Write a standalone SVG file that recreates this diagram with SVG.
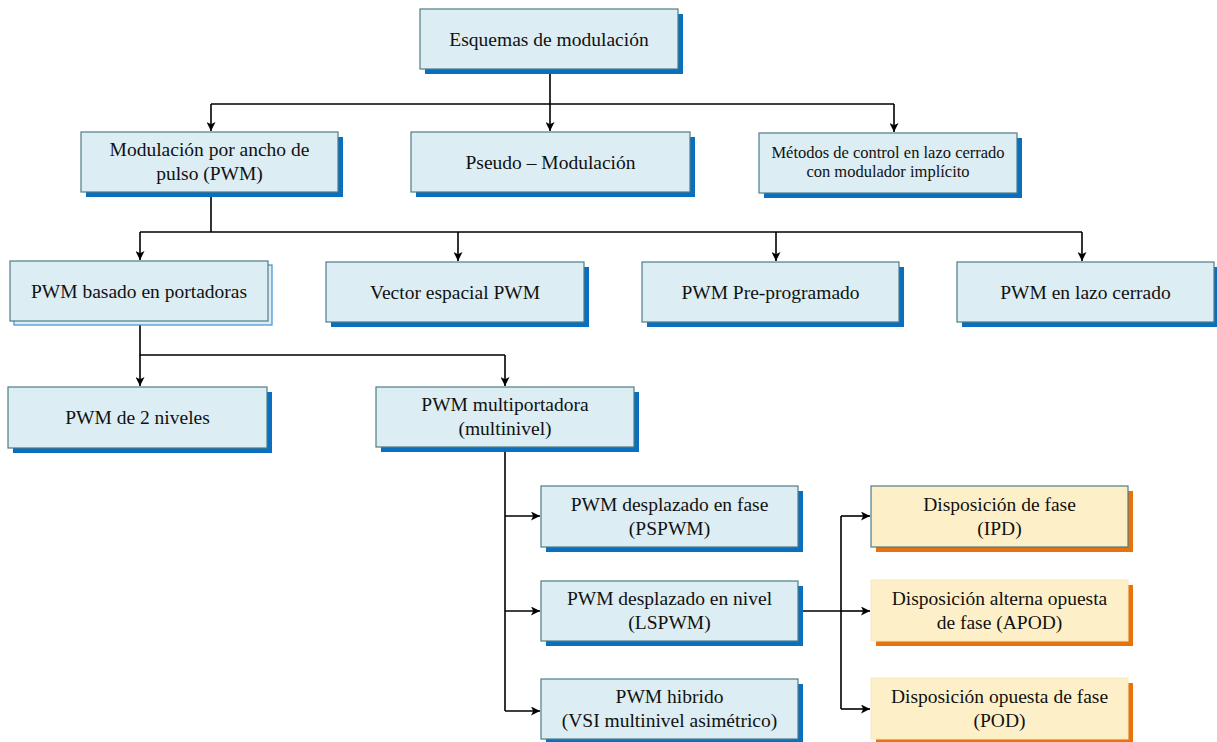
<svg xmlns="http://www.w3.org/2000/svg" width="1217" height="742" viewBox="0 0 1217 742">
<style>
.bx{fill:#dcedf3;stroke:#4f7c86;stroke-width:1.2}
.sh{fill:#0a6fbf}
.ob{fill:#fdf0c8;stroke:#4f7c86;stroke-width:1.2}
.obn{fill:#fdf0c8;stroke:#f6e7bb;stroke-width:1}
.osh{fill:#e8720c}
.bk{fill:#dcedf3;stroke:#3d8fd8;stroke-width:1.2}
.t{font-family:'Liberation Serif','Times New Roman',Times,'DejaVu Serif',serif;font-size:19.5px;fill:#111;text-anchor:middle}
.sm{font-size:16.5px}
.ln{fill:none;stroke:#000;stroke-width:1.6}
</style>
<defs>
<marker id="ar" viewBox="0 0 10 10" refX="10" refY="5" markerWidth="9" markerHeight="9" markerUnits="userSpaceOnUse" orient="auto">
<path d="M0,0 L10,5 L0,10 L2.5,5 Z" fill="#000"/>
</marker>
</defs>
<rect width="1217" height="742" fill="#fff"/>
<g id="connectors">
<path class="ln" d="M550,69 V104 M211,104 H894"/>
<path class="ln" d="M211,104 V131" marker-end="url(#ar)"/>
<path class="ln" d="M550,104 V131" marker-end="url(#ar)"/>
<path class="ln" d="M894,104 V132" marker-end="url(#ar)"/>
<path class="ln" d="M211,192 V232 M140,232 H1082"/>
<path class="ln" d="M140,232 V260" marker-end="url(#ar)"/>
<path class="ln" d="M458,232 V261" marker-end="url(#ar)"/>
<path class="ln" d="M776,232 V261" marker-end="url(#ar)"/>
<path class="ln" d="M1082,232 V261" marker-end="url(#ar)"/>
<path class="ln" d="M140,321 V355 H505"/>
<path class="ln" d="M140,355 V386" marker-end="url(#ar)"/>
<path class="ln" d="M505,355 V386" marker-end="url(#ar)"/>
<path class="ln" d="M505,447 V711"/>
<path class="ln" d="M505,516 H540" marker-end="url(#ar)"/>
<path class="ln" d="M505,611 H540" marker-end="url(#ar)"/>
<path class="ln" d="M505,711 H540" marker-end="url(#ar)"/>
<path class="ln" d="M798,611 H841 M841,516 V709"/>
<path class="ln" d="M841,516 H870" marker-end="url(#ar)"/>
<path class="ln" d="M841,611 H870" marker-end="url(#ar)"/>
<path class="ln" d="M841,709 H870" marker-end="url(#ar)"/>
</g>
<g font-family="Liberation Serif, Times New Roman, serif">
<g id="n-esquemas"><rect class="sh" x="425" y="14" width="258" height="60"/><rect class="bx" x="420" y="9" width="258" height="60"/><text class="t" x="549" y="45.5">Esquemas de modulación</text></g>
<g id="n-pwm"><rect class="sh" x="86" y="137" width="257" height="60"/><rect class="bx" x="81" y="132" width="257" height="60"/><text class="t" x="209.5" y="156">Modulación por ancho de</text><text class="t" x="209.5" y="180">pulso (PWM)</text></g>
<g id="n-pseudo"><rect class="sh" x="416" y="137" width="279" height="60"/><rect class="bx" x="411" y="132" width="279" height="60"/><text class="t" x="550.5" y="168.5">Pseudo – Modulación</text></g>
<g id="n-metodos"><rect class="sh" x="764" y="138" width="258" height="60"/><rect class="bx" x="759" y="133" width="258" height="60"/><text class="t sm" x="888" y="158">Métodos de control en lazo cerrado</text><text class="t sm" x="888" y="177">con modulador implícito</text></g>
<g id="n-basado"><rect class="bk" x="14" y="265" width="258" height="60"/><rect class="bx" x="10" y="261" width="258" height="60"/><text class="t" x="139" y="297.5">PWM basado en portadoras</text></g>
<g id="n-vector"><rect class="sh" x="331" y="267" width="258" height="60"/><rect class="bx" x="326" y="262" width="258" height="60"/><text class="t" x="455" y="298.5">Vector espacial PWM</text></g>
<g id="n-prepro"><rect class="sh" x="647" y="267" width="257" height="60"/><rect class="bx" x="642" y="262" width="257" height="60"/><text class="t" x="770.5" y="298.5">PWM Pre-programado</text></g>
<g id="n-lazo"><rect class="sh" x="962" y="267" width="257" height="60"/><rect class="bx" x="957" y="262" width="257" height="60"/><text class="t" x="1085.5" y="298.5">PWM en lazo cerrado</text></g>
<g id="n-2niv"><rect class="sh" x="13" y="392" width="259" height="61"/><rect class="bx" x="8" y="387" width="259" height="61"/><text class="t" x="137.5" y="424">PWM de 2 niveles</text></g>
<g id="n-multi"><rect class="sh" x="381" y="392" width="258" height="60"/><rect class="bx" x="376" y="387" width="258" height="60"/><text class="t" x="505" y="411">PWM multiportadora</text><text class="t" x="505" y="435">(multinivel)</text></g>
<g id="n-ps"><rect class="sh" x="546" y="491" width="257" height="61"/><rect class="bx" x="541" y="486" width="257" height="61"/><text class="t" x="669.5" y="511">PWM desplazado en fase</text><text class="t" x="669.5" y="535">(PSPWM)</text></g>
<g id="n-ls"><rect class="sh" x="546" y="586" width="257" height="60"/><rect class="bx" x="541" y="581" width="257" height="60"/><text class="t" x="669.5" y="605">PWM desplazado en nivel</text><text class="t" x="669.5" y="629">(LSPWM)</text></g>
<g id="n-hib"><rect class="sh" x="546" y="684" width="257" height="60"/><rect class="bx" x="541" y="679" width="257" height="60"/><text class="t" x="669.5" y="703">PWM hibrido</text><text class="t" x="669.5" y="727">(VSI multinivel asimétrico)</text></g>
<g id="n-ipd"><rect class="osh" x="876" y="491" width="257" height="61"/><rect class="ob" x="871" y="486" width="257" height="61"/><text class="t" x="999.5" y="511">Disposición de fase</text><text class="t" x="999.5" y="535">(IPD)</text></g>
<g id="n-apod"><rect class="osh" x="876" y="585" width="257" height="61"/><rect class="obn" x="871" y="580" width="257" height="61"/><text class="t" x="999.5" y="605">Disposición alterna opuesta</text><text class="t" x="999.5" y="629">de fase (APOD)</text></g>
<g id="n-pod"><rect class="osh" x="876" y="683" width="257" height="61"/><rect class="obn" x="871" y="678" width="257" height="61"/><text class="t" x="999.5" y="703">Disposición opuesta de fase</text><text class="t" x="999.5" y="727">(POD)</text></g>
</g>
</svg>
